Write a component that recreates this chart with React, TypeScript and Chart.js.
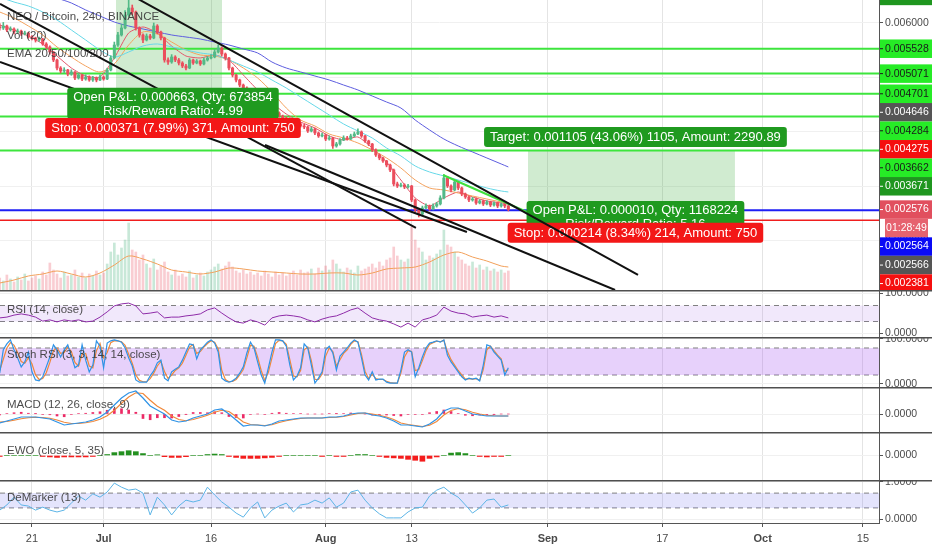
import React, { useEffect, useRef } from 'react';
import { Chart, registerables } from 'chart.js';

Chart.register(...registerables);

const FONT = '"Liberation Sans", Arial, Helvetica, sans-serif';
const W = 932;
const AXIS_W = 53;

// ---- x axis: days counted from 1 June ----
const X_MIN = 15.54;
const X_MAX = 138.24;
const xTickVals = [20, 30, 45, 61, 73, 92, 108, 122, 136];
const xTickLabels = ['21', 'Jul', '16', 'Aug', '13', 'Sep', '17', 'Oct', '15'];
const xTickIsMonth = [false, true, false, true, false, true, false, true, false];

const CANDLE_START = 15.5;
const CANDLE_STEP = 0.5;
const DAY_START = 15.5;
const EMA_START = 15.5;
const EMA_STEP = 2;
const LAST_X = 86.5;

// ---- prices in millionths of BTC ----
const PRICE_MIN = 1100;
const PRICE_MAX = 6422;
const priceTicks = [2000, 3000, 4000, 5000, 6000];
const FIRST_OPEN = 5930;

const closes = [
  5908, 5945, 5872, 5890, 5835, 5853, 5798, 5817, 5743, 5725,
  5688, 5706, 5615, 5560, 5468, 5321, 5174, 5119, 5138, 5064,
  5101, 4991, 5046, 4972, 5009, 4954, 4991, 4954, 5009, 4972,
  5138, 5358, 5596, 5780, 5908, 6147, 6275, 6202, 5908, 5780,
  5688, 5761, 5725, 5945, 5835, 5725, 5321, 5284, 5376, 5321,
  5266, 5211, 5174, 5321, 5266, 5303, 5248, 5321, 5358, 5376,
  5468, 5541, 5431, 5358, 5174, 5046, 4954, 4862, 4807, 4734,
  4679, 4642, 4569, 4514, 4477, 4422, 4367, 4349, 4293, 4257,
  4238, 4202, 4183, 4147, 4110, 4092, 4018, 4055, 3982, 3927,
  3945, 3871, 3890, 3743, 3780, 3853, 3890, 3871, 3927, 3963,
  4000, 3927, 3835, 3780, 3670, 3578, 3523, 3468, 3394, 3303,
  3046, 3009, 3027, 2991, 3009, 2752, 2569, 2495, 2605, 2642,
  2587, 2642, 2679, 2789, 3156, 3009, 2936, 3082, 2972, 2862,
  2807, 2752, 2770, 2697, 2734, 2679, 2715, 2660, 2697, 2642,
  2679, 2642, 2576,
];
const highs = [
  5990, 6010, 5960, 5930, 5910, 5890, 5870, 5850, 5830, 5770,
  5740, 5740, 5720, 5640, 5580, 5480, 5340, 5200, 5180, 5150,
  5140, 5110, 5080, 5060, 5050, 5030, 5020, 5010, 5050, 5030,
  5170, 5400, 5650, 5830, 5980, 6230, 6420, 6330, 6220, 5930,
  5800, 5800, 5790, 6000, 5970, 5850, 5740, 5360, 5420, 5400,
  5350, 5290, 5240, 5350, 5340, 5330, 5320, 5360, 5390, 5420,
  5520, 5600, 5560, 5450, 5370, 5190, 5060, 4970, 4880, 4830,
  4750, 4700, 4660, 4590, 4530, 4490, 4440, 4390, 4370, 4310,
  4280, 4260, 4230, 4200, 4170, 4140, 4110, 4090, 4070, 4000,
  3980, 3960, 3930, 3900, 3810, 3880, 3930, 3920, 3960, 4000,
  4060, 4020, 3940, 3850, 3790, 3690, 3600, 3540, 3480, 3410,
  3320, 3080, 3060, 3050, 3040, 3020, 2770, 2600, 2640, 2680,
  2660, 2680, 2710, 2830, 3220, 3180, 3030, 3120, 3100, 2990,
  2880, 2830, 2800, 2790, 2760, 2750, 2740, 2730, 2720, 2710,
  2700, 2690, 2660,
];
const lows = [
  5870, 5880, 5840, 5850, 5800, 5810, 5770, 5780, 5720, 5690,
  5650, 5660, 5590, 5530, 5430, 5290, 5140, 5080, 5090, 5030,
  5040, 4960, 4970, 4940, 4950, 4930, 4930, 4920, 4940, 4950,
  4960, 5120, 5340, 5570, 5760, 5890, 6120, 6150, 5870, 5740,
  5640, 5670, 5700, 5710, 5800, 5690, 5280, 5240, 5260, 5290,
  5230, 5180, 5140, 5160, 5240, 5250, 5220, 5230, 5300, 5340,
  5360, 5450, 5400, 5320, 5140, 5010, 4920, 4830, 4780, 4700,
  4650, 4610, 4540, 4490, 4450, 4400, 4340, 4320, 4270, 4230,
  4210, 4180, 4160, 4120, 4090, 4060, 3990, 4000, 3950, 3900,
  3910, 3840, 3850, 3700, 3720, 3760, 3840, 3850, 3860, 3910,
  3950, 3900, 3810, 3750, 3640, 3550, 3490, 3440, 3360, 3270,
  3010, 2980, 2990, 2960, 2970, 2720, 2530, 2440, 2480, 2590,
  2560, 2570, 2620, 2660, 2770, 2980, 2900, 2920, 2940, 2830,
  2780, 2720, 2730, 2670, 2680, 2650, 2660, 2630, 2640, 2610,
  2620, 2610, 2550,
];
const VOL_AXIS_MAX = 2900;
const volumes = [
  120, 90, 150, 110, 80, 130, 100, 160, 90, 120, 140,
  110, 180, 150, 270, 200, 160, 120, 180, 140, 150,
  200, 130, 170, 120, 160, 140, 190, 150, 170, 260,
  380, 470, 350, 420, 500, 670, 400, 380, 300, 350,
  260, 220, 310, 200, 240, 280, 180, 150, 200, 140,
  160, 130, 190, 120, 150, 170, 140, 180, 200, 230,
  260, 210, 240, 280, 230, 190, 170, 200, 160, 180,
  150, 170, 140, 190, 160, 130, 180, 150, 170, 140,
  160, 190, 150, 200, 170, 180, 210, 160, 220, 190,
  240, 200, 300, 260, 210, 180, 220, 200, 170, 240,
  190, 210, 230, 260, 220, 280, 240, 300, 320, 430,
  340, 300, 280, 310, 630, 500, 420, 380, 300, 340,
  320, 360, 400, 600, 450, 430, 380, 330, 300, 260,
  240, 280, 220, 250, 200, 230, 190, 210, 180, 200, 170, 190,
];
const volMA = [70, 100, 140, 160, 190, 160, 130, 170, 250, 340, 310, 260, 200, 180, 160, 180, 220, 210, 190, 180, 170, 160, 160, 170, 170, 150, 170, 210, 220, 230, 280, 350, 380, 330, 290, 240, 230];

const ema20 = [5963, 5872, 5761, 5615, 5394, 5174, 5027, 5009, 5358, 5817, 5927, 5817, 5578, 5394, 5358, 5413, 5321, 5046, 4771, 4532, 4330, 4183, 4073, 3927, 3853, 3908, 3706, 3449, 3119, 2789, 2642, 2789, 2899, 2807, 2734, 2697, 2679];
const ema50 = [6202, 6092, 5945, 5780, 5560, 5376, 5211, 5101, 5248, 5596, 5835, 5798, 5651, 5505, 5413, 5395, 5321, 5174, 4991, 4734, 4440, 4220, 4110, 3963, 3890, 3798, 3670, 3523, 3339, 3119, 2972, 2936, 2880, 2825, 2770, 2715, 2697];
const ema100 = [6477, 6385, 6312, 6202, 6055, 5872, 5688, 5505, 5376, 5468, 5578, 5615, 5560, 5505, 5450, 5413, 5321, 5211, 5101, 4954, 4807, 4642, 4477, 4312, 4147, 4018, 3890, 3706, 3560, 3376, 3266, 3193, 3119, 3046, 2972, 2917, 2899];
const ema200 = [6881, 6789, 6679, 6569, 6459, 6367, 6239, 6128, 6018, 5945, 5890, 5835, 5780, 5743, 5706, 5651, 5596, 5523, 5450, 5284, 5174, 5101, 5027, 4954, 4862, 4771, 4660, 4550, 4440, 4220, 4037, 3871, 3743, 3633, 3523, 3413, 3358];

const limeLevels = [5528, 5071, 4701, 4284, 3662];
const blueLevel = 2564;
const redLevel = 2381;

// trend lines [x, price]
const trendA = [[15.54, 6349], [73.6, 2238]];
const trendB = [[15.54, 5284], [80.72, 2165]];
const trendC = [[52.53, 3761], [101.4, 1100]];
const trendD = [[30.0, 6791], [104.6, 1376]];
const trendGreen = [[77.38, 3211], [89.1, 2532]];

const tools = [
  {
    x0: 31.73, x1: 46.53, entry: 4646, target: 6497, stop: 4275,
    targetText: null,
    pnl: ['Open P&L: 0.000663, Qty: 673854', 'Risk/Reward Ratio: 4.99'],
    stopText: 'Stop: 0.000371 (7.99%) 371, Amount: 750',
  },
  {
    x0: 89.24, x1: 118.13, entry: 2566, target: 3671, stop: 2352,
    targetText: 'Target: 0.001105 (43.06%) 1105, Amount: 2290.89',
    pnl: ['Open P&L: 0.000010, Qty: 1168224', 'Risk/Reward Ratio: 5.16'],
    stopText: 'Stop: 0.000214 (8.34%) 214, Amount: 750',
  },
];

const LIME = '#26ec26';
const axisBadges = [
  { v: 6497, bg: '#1f961f', fg: '#ffffff' },
  { v: 5528, bg: LIME, fg: '#1a1a1a' },
  { v: 5071, bg: LIME, fg: '#1a1a1a' },
  { v: 4701, bg: LIME, fg: '#1a1a1a' },
  { v: 4646, bg: '#555555', fg: '#ffffff' },
  { v: 4284, bg: LIME, fg: '#1a1a1a' },
  { v: 4275, bg: '#f50f0f', fg: '#ffffff' },
  { v: 3662, bg: LIME, fg: '#1a1a1a' },
  { v: 3671, bg: '#1f961f', fg: '#ffffff' },
  { v: 2576, bg: '#e14f5e', fg: '#ffffff' },
  { text: '01:28:49', bg: '#e6626f', fg: '#ffffff' },
  { v: 2564, bg: '#0a0af5', fg: '#ffffff' },
  { v: 2566, bg: '#555555', fg: '#ffffff' },
  { v: 2381, bg: '#f50f0f', fg: '#ffffff' },
];
const mainTitles = ['NEO / Bitcoin, 240, BINANCE', 'Vol (20)', 'EMA 20/50/100/200'];

// ---- indicators, one value per day ----
const rsi = [
  39, 41, 46, 49, 46, 41, 31, 34, 29, 34,
  31, 34, 29, 31, 41, 54, 69, 74, 76, 69,
  49, 51, 54, 39, 41, 41, 44, 46, 49, 59,
  64, 51, 39, 29, 26, 34, 29, 21, 39, 44,
  46, 44, 41, 34, 29, 36, 41, 44, 51, 59,
  64, 51, 39, 34, 31, 24, 16, 26, 16, 34,
  39, 46, 66, 56, 51, 49, 41, 44, 46, 41,
  44, 39,
];
const rsiBand = [70, 30];

// stoch RSI, one value per half day
const stochK = [
  24, 76, 89, 98, 76, 58, 38, 49, 71, 27,
  9, 7, 16, 38, 60, 87, 76, 60, 76, 87,
  62, 36, 42, 87, 53, 27, 42, 96, 84, 36,
  91, 96, 98, 96, 93, 80, 58, 40, 9, 4,
  4, 4, 18, 29, 47, 53, 13, 7, 27, 33,
  38, 53, 71, 89, 87, 56, 76, 84, 93, 98,
  91, 71, 13, 7, 4, 7, 13, 24, 38, 69,
  93, 80, 49, 20, 2, 36, 71, 98, 98, 96,
  84, 42, 9, 18, 36, 89, 80, 42, 2, 13,
  27, 76, 84, 69, 31, 62, 71, 80, 91, 98,
  93, 58, 20, 9, 27, 9, 11, 11, 4, 2,
  2, 2, 31, 71, 76, 71, 16, 36, 60, 80,
  91, 93, 96, 93, 98, 64, 49, 38, 27, 16,
  9, 13, 11, 13, 7, 42, 87, 84, 71, 62,
  53, 20, 36,
];
const stochD = [
  30, 55, 80, 92, 86, 70, 50, 46, 58, 45,
  20, 10, 12, 25, 48, 74, 80, 68, 70, 82,
  72, 48, 40, 66, 68, 40, 36, 74, 90, 58,
  70, 92, 96, 96, 94, 86, 66, 46, 20, 8,
  5, 5, 12, 24, 40, 50, 28, 12, 20, 30,
  36, 46, 64, 82, 88, 68, 72, 82, 90, 96,
  93, 78, 30, 10, 5, 6, 10, 20, 32, 58,
  86, 84, 60, 30, 8, 26, 58, 90, 97, 96,
  88, 54, 18, 16, 30, 76, 82, 52, 10, 10,
  22, 62, 80, 72, 40, 54, 68, 76, 88, 96,
  94, 66, 28, 12, 22, 12, 10, 10, 6, 3,
  2, 2, 24, 60, 74, 72, 30, 32, 52, 74,
  88, 92, 95, 94, 97, 72, 54, 42, 30, 20,
  11, 12, 11, 12, 8, 32, 76, 84, 74, 64,
  56, 28, 32,
];
const stochBand = [80, 20];

const macd = [
  -72, -56, -40, -24, -24, -24, -32, -40, -64, -88,
  -80, -72, -64, -48, -24, 16, 72, 128, 168, 184,
  128, 64, 32, 0, -48, -64, -56, -32, -16, 0,
  32, 40, 0, -48, -96, -88, -88, -96, -80, -56,
  -48, -40, -32, -32, -32, -32, -24, -24, -16, 0,
  8, 8, -8, -16, -32, -56, -88, -88, -96, -104,
  -80, -40, 24, 48, 48, 24, 0, -8, -16, -16,
  -16, -16,
];
const macdSignal = [
  -64, -60, -50, -38, -30, -26, -28, -34, -48, -66,
  -76, -76, -70, -60, -42, -14, 30, 86, 136, 170,
  164, 110, 62, 30, -16, -44, -54, -44, -28, -10,
  14, 30, 20, -20, -64, -84, -88, -92, -86, -68,
  -54, -44, -36, -32, -32, -32, -28, -26, -20, -8,
  4, 8, 0, -10, -24, -44, -72, -84, -92, -100,
  -90, -60, -8, 28, 44, 34, 14, 0, -10, -14,
  -16, -16,
];
const macdHist = [
  -8, 4, 10, 14, 6, 2, -4, -6, -16, -22,
  -4, 4, 6, 12, 18, 30, 42, 42, 32, 14,
  -36, -46, -30, -30, -32, -20, -2, 12, 12, 10,
  18, 10, -20, -28, -32, -4, 0, -4, 6, 12,
  6, 4, 4, 0, 0, 0, 4, 2, 4, 8,
  4, 0, -8, -6, -8, -12, -16, -4, -4, -4,
  10, 20, 32, 20, 4, -10, -14, -8, -6, -2,
  0, 0,
];
const ewo = [
  -4, 0, 0, 0, 0, 0, -4, -6, -8, -6,
  -6, -6, -6, -4, 0, 4, 12, 16, 20, 16,
  8, 0, 3, -5, -8, -8, -5, 0, 0, 4,
  6, 4, -4, -8, -12, -12, -12, -10, -8, -4,
  0, 0, 0, 0, 0, -4, 0, -4, -4, 0,
  4, 4, 0, -4, -8, -10, -12, -16, -20, -24,
  -12, -6, 0, 10, 12, 8, 0, -4, -6, -4,
  -4, 0,
];
const demarker = [
  0.24, 0.38, 0.59, 0.38, 0.35, 0.24, 0.32, 0.24, 0.19, 0.24,
  0.43, 0.62, 0.51, 0.68, 0.59, 0.73, 0.97, 0.86, 0.78, 0.81,
  0.70, 0.11, 0.59, 0.38, 0.11, 0.35, 0.51, 0.46, 0.51, 0.86,
  0.65, 0.46, 0.32, 0.16, 0.05, 0.30, 0.46, 0.03, 0.24, 0.35,
  0.43, 0.19, 0.38, 0.41, 0.51, 0.43, 0.57, 0.32, 0.43, 0.73,
  0.78, 0.51, 0.30, 0.14, 0.03, 0.03, 0.03, 0.19, 0.30, 0.32,
  0.62, 0.78, 0.86, 0.70, 0.59, 0.38, 0.16, 0.30, 0.51, 0.54,
  0.32, 0.38,
];
const demBand = [0.7, 0.3];

// ---------------- helpers ----------------
const candleX = (i: number) => CANDLE_START + CANDLE_STEP * i;
const dayX = (k: number) => DAY_START + k;
const emaX = (k: number) => Math.min(EMA_START + EMA_STEP * k, LAST_X);
const fmtPrice = (v: number) => (v / 1e6).toFixed(6);

function xScaleCfg(showLabels: boolean) {
  return {
    type: 'linear',
    min: X_MIN,
    max: X_MAX,
    offset: false,
    afterBuildTicks: (s: any) => {
      s.ticks = xTickVals.map((v) => ({ value: v }));
    },
    afterFit: (s: any) => {
      s.height = showLabels ? 27 : 0;
      s.paddingLeft = 0;
      s.paddingRight = 0;
    },
    grid: { color: '#e4e4e4', offset: false, drawTicks: showLabels, tickLength: 4, tickColor: '#555' },
    border: { display: showLabels, color: '#555', width: 1 },
    ticks: {
      display: showLabels,
      autoSkip: false,
      maxRotation: 0,
      minRotation: 0,
      padding: 5,
      color: '#4a4a4a',
      font: (c: any) => ({
        family: FONT,
        size: 11,
        weight: xTickIsMonth[xTickVals.indexOf(c.tick ? c.tick.value : -1)] ? 'bold' : 'normal',
      }),
      callback: (v: any) => {
        const i = xTickVals.indexOf(Number(v));
        return i >= 0 ? xTickLabels[i] : '';
      },
    },
  };
}

function yScaleCfg(min: number, max: number, tickVals: number[], fmt: (v: number) => string) {
  return {
    type: 'linear',
    position: 'right',
    min,
    max,
    afterBuildTicks: (s: any) => {
      s.ticks = tickVals.map((v) => ({ value: v }));
    },
    afterFit: (s: any) => {
      s.width = AXIS_W;
      s.paddingTop = 0;
      s.paddingBottom = 0;
    },
    grid: { color: '#f0f0f0', drawTicks: true, tickLength: 4, tickColor: '#555' },
    border: { display: true, color: '#555', width: 1 },
    ticks: {
      autoSkip: false,
      padding: 2,
      color: '#4a4a4a',
      font: { family: FONT, size: 10.5 },
      callback: (v: any) => fmt(Number(v)),
    },
  };
}

function baseOptions(scales: any) {
  return {
    animation: false,
    responsive: false,
    maintainAspectRatio: false,
    devicePixelRatio: 1,
    events: [],
    layout: { padding: 0 },
    plugins: { legend: { display: false }, tooltip: { enabled: false } },
    scales,
  };
}

const flatLine = (v: number, extra: any) => ({
  type: 'line',
  data: [{ x: X_MIN, y: v }, { x: X_MAX, y: v }],
  pointRadius: 0,
  fill: false,
  ...extra,
});

function bandDatasets(band: number[], fillColor: string) {
  const dash = { borderColor: '#808080', borderWidth: 1, borderDash: [5, 4] };
  return [
    flatLine(band[0], { ...dash, fill: { value: band[1] }, backgroundColor: fillColor, order: 50 }),
    flatLine(band[1], { ...dash, order: 50 }),
  ];
}

function seriesLine(values: number[], xf: (i: number) => number, color: string, width: number, order: number, extra: any = {}) {
  return {
    type: 'line',
    data: values.map((v, i) => ({ x: xf(i), y: v })),
    borderColor: color,
    borderWidth: width,
    pointRadius: 0,
    fill: false,
    order,
    ...extra,
  };
}

function drawTitle(ctx: any, text: string, y: number) {
  ctx.save();
  ctx.font = `11.5px ${FONT}`;
  ctx.fillStyle = 'rgba(60,60,60,0.92)';
  ctx.textAlign = 'left';
  ctx.textBaseline = 'middle';
  ctx.fillText(text, 7, y);
  ctx.restore();
}

function drawBox(ctx: any, lines: string[], cx: number, top: number, color: string) {
  ctx.font = `13px ${FONT}`;
  const w = Math.max(...lines.map((l) => ctx.measureText(l).width)) + 12;
  const h = lines.length === 1 ? 20 : 31;
  ctx.fillStyle = color;
  ctx.beginPath();
  if (ctx.roundRect) ctx.roundRect(cx - w / 2, top, w, h, 3);
  else ctx.rect(cx - w / 2, top, w, h);
  ctx.fill();
  ctx.fillStyle = '#ffffff';
  ctx.textAlign = 'center';
  ctx.textBaseline = 'middle';
  lines.forEach((l, i) => ctx.fillText(l, cx, top + (lines.length === 1 ? 10.5 : 9.5 + i * 14)));
}

function drawTool(chart: any, t: any) {
  const ctx = chart.ctx;
  const xs = chart.scales.x;
  const ys = chart.scales.y;
  const cx = (xs.getPixelForValue(t.x0) + xs.getPixelForValue(t.x1)) / 2 + 4;
  ctx.save();
  if (t.targetText) drawBox(ctx, [t.targetText], cx, ys.getPixelForValue(t.target) - 23, '#1f9a1f');
  drawBox(ctx, t.pnl, cx, ys.getPixelForValue(t.entry) - 9, '#1f9a1f');
  drawBox(ctx, [t.stopText], cx, ys.getPixelForValue(t.stop) + 1, '#f31717');
  ctx.restore();
}

// ---------------- main pane ----------------
function mainConfig() {
  const opens = closes.map((c, i) => (i === 0 ? FIRST_OPEN : closes[i - 1]));
  const up = closes.map((c, i) => c >= opens[i]);
  const UPC = '#53b987';
  const DNC = '#eb4d5c';
  const datasets: any[] = [];

  tools.forEach((t) => {
    const seg = (v: number, extra: any) => ({
      type: 'line',
      data: [{ x: t.x0, y: v }, { x: t.x1, y: v }],
      pointRadius: 0,
      borderColor: 'rgba(0,0,0,0)',
      borderWidth: 1,
      order: 100,
      ...extra,
    });
    datasets.push(seg(t.target, { fill: '+1', backgroundColor: 'rgba(40,165,40,0.22)' }));
    datasets.push(seg(t.entry, { fill: false }));
    datasets.push(seg(t.stop, { fill: '-1', backgroundColor: 'rgba(240,40,40,0.18)' }));
  });

  datasets.push({
    type: 'bar',
    yAxisID: 'yv',
    data: volumes.map((v, i) => ({ x: candleX(i), y: v })),
    backgroundColor: up.map((u) => (u ? 'rgba(83,185,135,0.32)' : 'rgba(235,77,92,0.28)')),
    barThickness: 2,
    grouped: false,
    order: 95,
  });
  datasets.push(seriesLine(volMA, emaX, '#f2a05a', 1, 94, { yAxisID: 'yv', tension: 0.3 }));

  limeLevels.forEach((v) => datasets.push(flatLine(v, { borderColor: '#3de53d', borderWidth: 2, order: 80 })));
  datasets.push(flatLine(blueLevel, { borderColor: '#1f1ff5', borderWidth: 2, order: 80 }));
  datasets.push(flatLine(redLevel, { borderColor: '#f01e1e', borderWidth: 1.5, order: 80 }));

  datasets.push(seriesLine(ema200, emaX, '#5d5ddf', 1, 70, { tension: 0.3 }));
  datasets.push(seriesLine(ema100, emaX, '#66d8e8', 1, 70, { tension: 0.3 }));
  datasets.push(seriesLine(ema50, emaX, '#f4a25e', 1, 70, { tension: 0.3 }));
  datasets.push(seriesLine(ema20, emaX, '#e4566a', 1, 70, { tension: 0.2 }));

  datasets.push({
    type: 'bar',
    data: closes.map((c, i) => ({ x: candleX(i), y: [lows[i], highs[i]] })),
    backgroundColor: up.map((u) => (u ? UPC : DNC)),
    barThickness: 1,
    grouped: false,
    order: 61,
  });
  datasets.push({
    type: 'bar',
    data: closes.map((c, i) => ({ x: candleX(i), y: [opens[i], c] })),
    backgroundColor: up.map((u) => (u ? UPC : DNC)),
    barThickness: 2.4,
    grouped: false,
    order: 60,
  });

  const trend = (pts: number[][], color: string, order: number) => ({
    type: 'line',
    data: pts.map(([x, y]) => ({ x, y })),
    borderColor: color,
    borderWidth: 2,
    pointRadius: 0,
    fill: false,
    order,
  });
  const greenIndex = datasets.length;
  datasets.push(trend(trendGreen, '#3fe03f', 41));
  datasets.push(trend(trendA, '#111111', 40));
  datasets.push(trend(trendB, '#111111', 40));
  datasets.push(trend(trendC, '#111111', 40));
  datasets.push(trend(trendD, '#111111', 40));

  const decor = {
    id: 'mainDecor',
    afterDatasetDraw(chart: any, args: any) {
      if (args.index === greenIndex) drawTool(chart, tools[1]);
    },
    afterDatasetsDraw(chart: any) {
      drawTool(chart, tools[0]);
      const ys = [17, 35.5, 54];
      mainTitles.forEach((t, i) => drawTitle(chart.ctx, t, ys[i]));
    },
    afterDraw(chart: any) {
      const ctx = chart.ctx;
      const ys = chart.scales.y;
      const right = chart.chartArea.right;
      const H = 18.5;
      let prev = -Infinity;
      ctx.save();
      ctx.font = `10.5px ${FONT}`;
      ctx.textBaseline = 'middle';
      axisBadges.forEach((b: any) => {
        const raw = b.v != null ? ys.getPixelForValue(b.v) : prev + H;
        const y = Math.max(raw, prev + H);
        prev = y;
        if (b.text) {
          ctx.fillStyle = b.bg;
          ctx.fillRect(right + 6, y - H / 2, 43, H);
          ctx.fillStyle = b.fg;
          ctx.textAlign = 'center';
          ctx.fillText(b.text, right + 27.5, y);
        } else {
          ctx.fillStyle = b.bg;
          ctx.fillRect(right + 1, y - H / 2, chart.width - right - 1, H);
          ctx.fillStyle = b.fg;
          ctx.fillRect(right + 1, y - 0.5, 3, 1);
          ctx.textAlign = 'left';
          ctx.fillText(fmtPrice(b.v), right + 6, y);
        }
      });
      ctx.restore();
    },
  };

  return {
    type: 'line',
    data: { datasets },
    options: baseOptions({
      x: xScaleCfg(false),
      y: yScaleCfg(PRICE_MIN, PRICE_MAX, priceTicks, fmtPrice),
      yv: { type: 'linear', display: false, min: 0, max: VOL_AXIS_MAX },
    }),
    plugins: [decor],
  };
}

// ---------------- sub panes ----------------
function paneDecor(title: string, titleY: number) {
  return {
    id: 'paneDecor',
    afterDatasetsDraw(chart: any) {
      drawTitle(chart.ctx, title, titleY);
    },
    afterDraw(chart: any) {
      const ctx = chart.ctx;
      ctx.save();
      ctx.fillStyle = '#4f4f4f';
      ctx.fillRect(0, 0, chart.width, 1.5);
      ctx.restore();
    },
  };
}

function subPane(o: any) {
  return {
    type: 'line',
    data: { datasets: o.datasets },
    options: baseOptions({
      x: xScaleCfg(!!o.showX),
      y: yScaleCfg(o.yMin, o.yMax, o.yTicks, (v: number) => v.toFixed(4)),
    }),
    plugins: [paneDecor(o.title, o.titleY)],
  };
}

function rsiConfig() {
  return subPane({
    datasets: [seriesLine(rsi, dayX, '#8e2ba8', 1, 1), ...bandDatasets(rsiBand, 'rgba(170,110,230,0.16)')],
    yMin: -8.75, yMax: 108.75, yTicks: [0, 100], title: 'RSI (14, close)', titleY: 20,
  });
}

function stochConfig() {
  return subPane({
    datasets: [
      seriesLine(stochK, candleX, '#2f93e6', 1.2, 1),
      seriesLine(stochD, candleX, '#f0883a', 1.2, 2),
      ...bandDatasets(stochBand, 'rgba(170,90,240,0.28)'),
    ],
    yMin: -6.67, yMax: 104.44, yTicks: [0, 100], title: 'Stoch RSI (3, 3, 14, 14, close)', titleY: 18,
  });
}

function macdConfig() {
  return subPane({
    datasets: [
      seriesLine(macd, dayX, '#2f93e6', 1.2, 1),
      seriesLine(macdSignal, dayX, '#f0883a', 1.2, 2),
      {
        type: 'bar',
        data: macdHist.map((v, i) => ({ x: dayX(i), y: v })),
        backgroundColor: '#ec2a66',
        barThickness: 2,
        grouped: false,
        order: 5,
      },
    ],
    yMin: -144, yMax: 216, yTicks: [0], title: 'MACD (12, 26, close, 9)', titleY: 18,
  });
}

function ewoConfig() {
  return subPane({
    datasets: [
      {
        type: 'bar',
        data: ewo.map((v, i) => ({ x: dayX(i), y: v })),
        backgroundColor: ewo.map((v) => (v >= 0 ? '#23901f' : '#f41c1c')),
        barThickness: 5,
        grouped: false,
        order: 1,
      },
    ],
    yMin: -102.1, yMax: 97.9, yTicks: [0], title: 'EWO (close, 5, 35)', titleY: 19,
  });
}

function demConfig() {
  return subPane({
    datasets: [seriesLine(demarker, dayX, '#5cb4e6', 1, 1), ...bandDatasets(demBand, 'rgba(120,120,240,0.2)')],
    yMin: -0.108, yMax: 1.054, yTicks: [0, 1], title: 'DeMarker (13)', titleY: 18, showX: true,
  });
}

function Pane({ top, height, make }: { top: number; height: number; make: () => any }) {
  const ref = useRef<HTMLCanvasElement | null>(null);
  useEffect(() => {
    const chart = new Chart(ref.current as HTMLCanvasElement, make());
    return () => chart.destroy();
  }, []);
  return (
    <canvas
      ref={ref}
      width={W}
      height={height}
      style={{ position: 'absolute', left: 0, top, width: W, height, display: 'block' }}
    />
  );
}

export default function App() {
  return (
    <div style={{ position: 'fixed', left: 0, top: 0, width: W, height: 550, background: '#ffffff', overflow: 'hidden' }}>
      <Pane top={0} height={290} make={mainConfig} />
      <Pane top={290} height={47} make={rsiConfig} />
      <Pane top={337} height={50} make={stochConfig} />
      <Pane top={387} height={45} make={macdConfig} />
      <Pane top={432} height={48} make={ewoConfig} />
      <Pane top={480} height={70} make={demConfig} />
    </div>
  );
}
